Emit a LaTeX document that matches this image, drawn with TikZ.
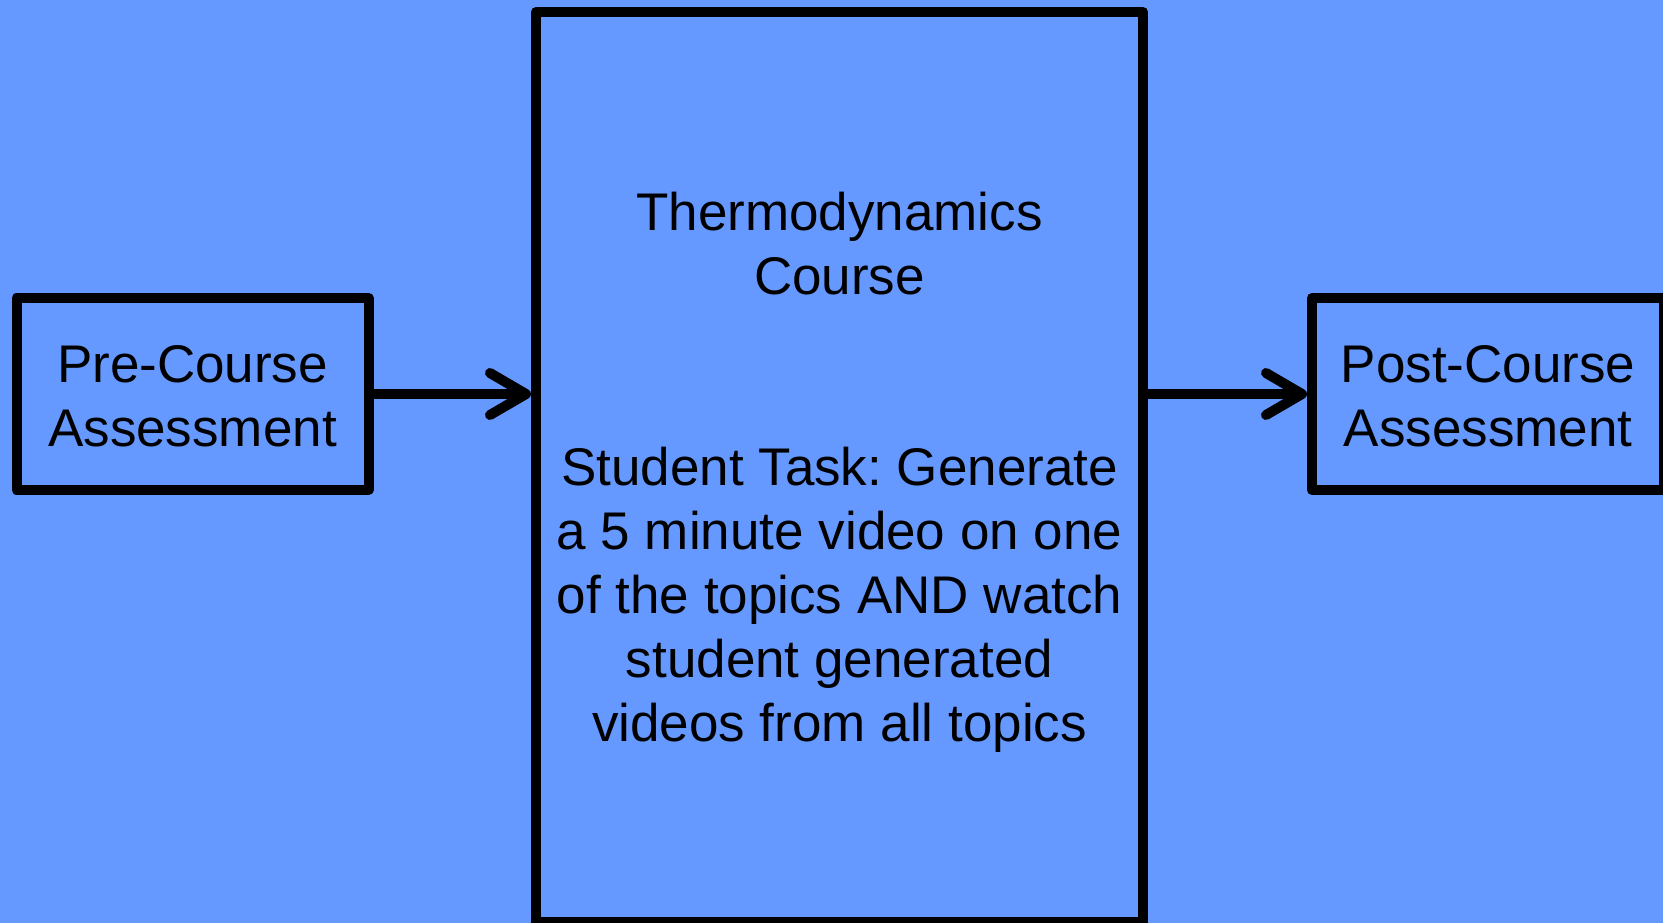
\documentclass[tikz,border=0pt]{standalone}
\usepackage{fontspec}
\setmainfont{Liberation Sans}
\usetikzlibrary{arrows.meta}
\definecolor{bgblue}{RGB}{102,153,255}
\frenchspacing
\tikzset{
  box/.style={draw=black, line width=10pt, line join=round, fill=bgblue, inner sep=0pt},
  txt/.style={align=center, inner sep=0pt, font=\fontsize{53}{64}\selectfont},
  conn/.style={line width=10pt, -{Straight Barb[length=36pt,width=42pt,round]}}
}
\begin{document}
\begin{tikzpicture}[x=1pt,y=-1pt]
\useasboundingbox[fill=bgblue] (0,0) rectangle (1663,923);
\node[box, minimum width=352pt, minimum height=192pt] (pre) at (192.5,394) {};
\node[box, minimum width=607pt, minimum height=910pt] (course) at (839.5,467) {};
\node[box, minimum width=352pt, minimum height=192pt] (post) at (1488,394) {};
\node[txt] (pretxt) at (192.5,396) {Pre-Course\\Assessment};
\node[txt] (posttxt) at (1488,396) {Post-Course\\Assessment};
\node[txt] (title) at (839.5,244) {Thermodynamics\\Course};
\node[txt] (task) at (839.5,600) {Student Task: Generate\\a 5 minute video on one\\of the topics AND watch\\student generated\\videos from all topics};
\draw[conn] (pre.east) -- (pre.east -| course.west);
\draw[conn] (post.west -| course.east) -- (post.west);
\end{tikzpicture}
\end{document}
